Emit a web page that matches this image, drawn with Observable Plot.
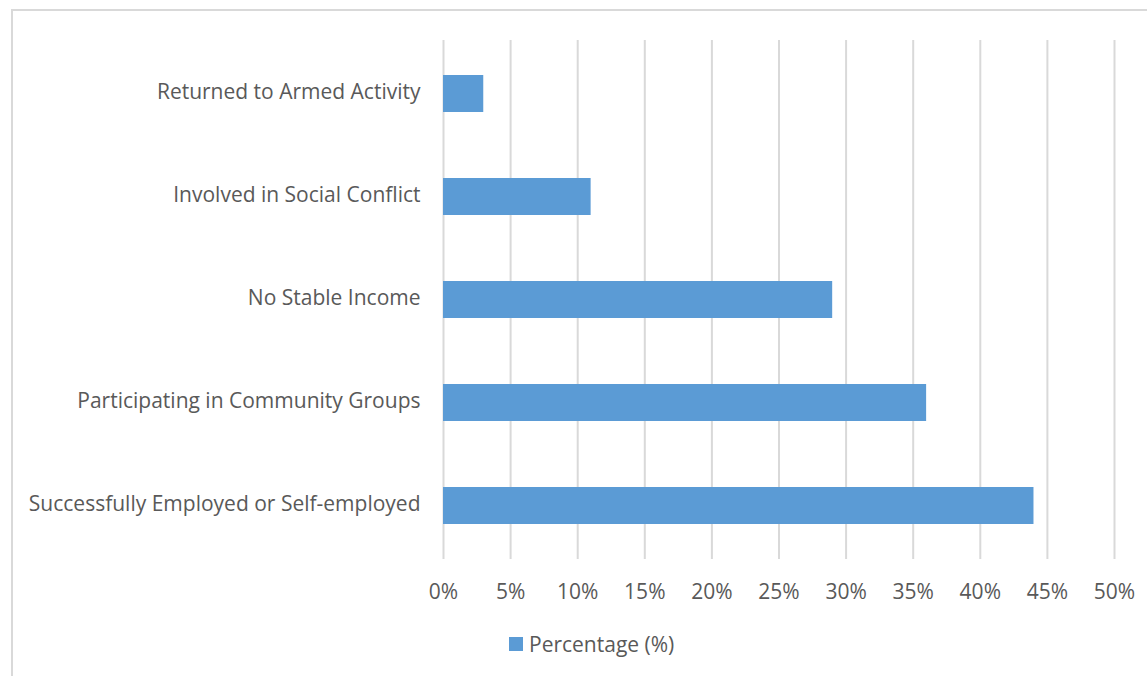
<!DOCTYPE html>
<html>
<head>
<meta charset="utf-8">
<script src="https://cdn.jsdelivr.net/npm/d3@7"></script>
<script src="https://cdn.jsdelivr.net/npm/@observablehq/plot@0.6"></script>
<style>
  html, body { margin: 0; padding: 0; background: #fff; }
  body { width: 1147px; height: 676px; position: relative; overflow: hidden; font-family: "Open Sans", sans-serif; }
  #frame { position: absolute; left: 11px; top: 9px; width: 1150px; height: 680px; border: 2px solid #d9d9d9; box-sizing: border-box; }
  #chart { position: absolute; left: 0; top: 0; }
  #legend { position: absolute; left: 509px; top: 630px; display: flex; align-items: center; color: #595959; font-size: 21px; }
  #legend .sw { width: 14px; height: 14px; background: #5b9bd5; margin-right: 6px; }
</style>
</head>
<body>
<div id="frame"></div>
<div id="chart"></div>
<div id="legend"><span class="sw"></span><span id="legend-label"></span></div>
<script>
const categories = [
  "Returned to Armed Activity",
  "Involved in Social Conflict",
  "No Stable Income",
  "Participating in Community Groups",
  "Successfully Employed or Self-employed"
];
const percentages = [3, 11, 29, 36, 44];
const xTicks = [0, 5, 10, 15, 20, 25, 30, 35, 40, 45, 50];
const seriesName = "Percentage (%)";

const data = categories.map((c, i) => ({category: c, value: percentages[i]}));

const chart = Plot.plot({
  width: 1147,
  height: 620,
  marginLeft: 443,
  marginRight: 33,
  marginTop: 40,
  marginBottom: 61,
  style: {fontFamily: "'Open Sans', sans-serif", fontSize: "21px", color: "#595959", background: "transparent"},
  x: {domain: [0, 50], ticks: xTicks},
  y: {domain: categories, paddingInner: 0.64, paddingOuter: 0.32},
  marks: [
    Plot.gridX(xTicks, {stroke: "#d9d9d9", strokeOpacity: 1, strokeWidth: 2}),
    Plot.barX(data, {x: "value", y: "category", fill: "#5b9bd5"}),
    Plot.axisX({ticks: xTicks, tickSize: 0, tickPadding: 25, tickFormat: d => d + "%", label: null, fontSize: 21}),
    Plot.axisY({tickSize: 0, tickPadding: 23, label: null, fontSize: 21, dy: -2})
  ]
});
document.getElementById("chart").appendChild(chart);
document.getElementById("legend-label").textContent = seriesName;
</script>
</body>
</html>
